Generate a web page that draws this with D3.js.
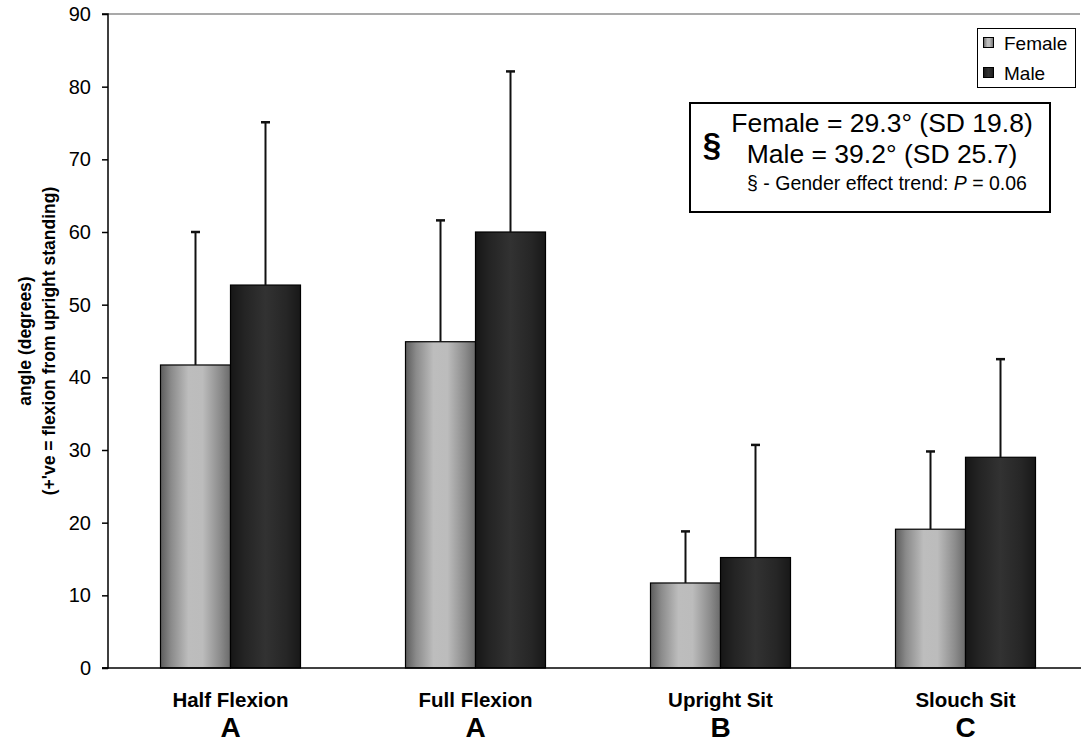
<!DOCTYPE html>
<html>
<head>
<meta charset="utf-8">
<script src="https://cdn.jsdelivr.net/npm/d3@7"></script>
<style>
  html, body { margin: 0; padding: 0; background: #fff; }
  svg { display: block; font-family: "Liberation Sans", Arial, sans-serif; }
</style>
</head>
<body>
<svg id="chart" width="1081" height="742"></svg>
<script>
// Trunk angle by posture and gender (mean, SD)
const postures = ["Half Flexion", "Full Flexion", "Upright Sit", "Slouch Sit"];
const postureGroups = ["A", "A", "B", "C"];
const femaleMean = [41.7, 44.9, 11.7, 19.1];
const femaleSD = [18.3, 16.7, 7.1, 10.7];
const maleMean = [52.7, 60.0, 15.2, 29.0];
const maleSD = [22.4, 22.1, 15.5, 13.5];
const seriesNames = ["Female", "Male"];
const yTicks = [0, 10, 20, 30, 40, 50, 60, 70, 80, 90];
const noteLines = ["Female = 29.3\u00B0 (SD 19.8)", "Male = 39.2\u00B0 (SD 25.7)"];

const svg = d3.select("#chart");
const margin = { left: 108, top: 14, right: 1088, bottom: 668 };

const x = d3.scaleBand().domain(postures)
  .range([margin.left, margin.right])
  .paddingInner(105 / 245).paddingOuter(105 / 490);
const xs = d3.scaleBand().domain(seriesNames).range([0, x.bandwidth()]);
const y = d3.scaleLinear().domain([0, 90]).range([margin.bottom, margin.top]);

// Cylinder-like shading for the bars
const defs = svg.append("defs");
function shade(id, stops) {
  const g = defs.append("linearGradient").attr("id", id)
    .attr("x1", "0%").attr("x2", "100%").attr("y1", "0%").attr("y2", "0%");
  stops.forEach(([o, c]) => g.append("stop").attr("offset", o).attr("stop-color", c));
}
shade("gFemale", [["0%", "#5c5c5c"], ["15%", "#8a8a8a"], ["40%", "#bdbdbd"], ["60%", "#bcbcbc"], ["85%", "#8c8c8c"], ["100%", "#6a6a6a"]]);
shade("gMale", [["0%", "#161616"], ["20%", "#242424"], ["50%", "#323232"], ["80%", "#262626"], ["100%", "#181818"]]);
const fills = { Female: "url(#gFemale)", Male: "url(#gMale)" };

// Top frame line of the plot area
svg.append("line")
  .attr("x1", margin.left).attr("x2", 1080)
  .attr("y1", y(90)).attr("y2", y(90))
  .attr("stroke", "#8c8c8c").attr("stroke-width", 1.5);

// Bars and error bars
const rows = [];
postures.forEach((p, i) => {
  rows.push({ p, s: "Female", m: femaleMean[i], sd: femaleSD[i] });
  rows.push({ p, s: "Male", m: maleMean[i], sd: maleSD[i] });
});

const gBars = svg.append("g");
gBars.selectAll("rect").data(rows).join("rect")
  .attr("x", d => x(d.p) + xs(d.s))
  .attr("y", d => y(d.m))
  .attr("width", xs.bandwidth())
  .attr("height", d => y(0) - y(d.m))
  .attr("fill", d => fills[d.s])
  .attr("stroke", "#000").attr("stroke-width", 1.2);

const gErr = svg.append("g").attr("stroke", "#111");
gErr.selectAll("line.v").data(rows).join("line").attr("class", "v")
  .attr("x1", d => x(d.p) + xs(d.s) + xs.bandwidth() / 2)
  .attr("x2", d => x(d.p) + xs(d.s) + xs.bandwidth() / 2)
  .attr("y1", d => y(d.m)).attr("y2", d => y(d.m + d.sd))
  .attr("stroke-width", 2);
gErr.selectAll("line.c").data(rows).join("line").attr("class", "c")
  .attr("x1", d => x(d.p) + xs(d.s) + xs.bandwidth() / 2 - 4.5)
  .attr("x2", d => x(d.p) + xs(d.s) + xs.bandwidth() / 2 + 4.5)
  .attr("y1", d => y(d.m + d.sd)).attr("y2", d => y(d.m + d.sd))
  .attr("stroke-width", 2.5);

// Y axis
const yAxis = d3.axisLeft(y).tickValues(yTicks).tickSize(6).tickPadding(11);
const gy = svg.append("g").attr("transform", `translate(${margin.left},0)`).call(yAxis);
gy.select(".domain").attr("stroke", "#000").attr("stroke-width", 1.5).attr("d", `M-6,${y(90)}H0V${y(0)}H-6`);
gy.selectAll(".tick line").attr("stroke", "#000").attr("stroke-width", 1.5);
gy.selectAll(".tick text").attr("font-size", 20).attr("fill", "#000")
  .attr("font-family", "Liberation Sans, Arial, sans-serif");

// X axis baseline
svg.append("line")
  .attr("x1", margin.left - 6).attr("x2", 1081)
  .attr("y1", y(0)).attr("y2", y(0))
  .attr("stroke", "#000").attr("stroke-width", 1.5);

// Category labels
const gx = svg.append("g").attr("text-anchor", "middle").attr("font-weight", "bold").attr("fill", "#000");
gx.selectAll("text.cat").data(postures).join("text").attr("class", "cat")
  .attr("x", d => x(d) + x.bandwidth() / 2).attr("y", 707)
  .attr("font-size", 20.5).text(d => d);
gx.selectAll("text.grp").data(postures).join("text").attr("class", "grp")
  .attr("x", d => x(d) + x.bandwidth() / 2).attr("y", 737)
  .attr("font-size", 28).text((d, i) => postureGroups[i]);

// Y axis title
const yt = svg.append("g").attr("transform", `translate(0,341) rotate(-90)`)
  .attr("text-anchor", "middle").attr("font-weight", "bold").attr("font-size", 17.5).attr("fill", "#000");
yt.append("text").attr("x", 0).attr("y", 31).text("angle (degrees)");
yt.append("text").attr("x", 0).attr("y", 55).text("(+'ve = flexion from upright standing)");

// Legend
const lg = svg.append("g");
lg.append("rect").attr("x", 977.5).attr("y", 28.5).attr("width", 98).attr("height", 59)
  .attr("fill", "#fff").attr("stroke", "#000").attr("stroke-width", 1);
seriesNames.forEach((s, i) => {
  const cy = 43 + i * 30;
  lg.append("rect").attr("x", 983.5).attr("y", cy - 5.5).attr("width", 10).attr("height", 10)
    .attr("fill", fills[s]).attr("stroke", "#000").attr("stroke-width", 1);
  lg.append("text").attr("x", 1004).attr("y", cy + 6.5).attr("font-size", 19).attr("fill", "#000").text(s);
});

// Gender effect note
const nb = svg.append("g");
nb.append("rect").attr("x", 690).attr("y", 103).attr("width", 360).attr("height", 109)
  .attr("fill", "#fff").attr("stroke", "#000").attr("stroke-width", 2);
nb.append("text").attr("x", 712).attr("y", 156).attr("text-anchor", "middle")
  .attr("font-size", 33).attr("font-weight", "bold").text("\u00A7");
nb.selectAll("text.ln").data(noteLines).join("text").attr("class", "ln")
  .attr("x", 882).attr("y", (d, i) => 132 + i * 31)
  .attr("text-anchor", "middle").attr("font-size", 26.5).attr("fill", "#000").text(d => d);
const t3 = nb.append("text").attr("x", 887).attr("y", 190).attr("text-anchor", "middle")
  .attr("font-size", 19.5).attr("fill", "#000");
t3.append("tspan").text("\u00A7 - Gender effect trend: ");
t3.append("tspan").attr("font-style", "italic").text("P");
t3.append("tspan").text(" = 0.06");
</script>
</body>
</html>
